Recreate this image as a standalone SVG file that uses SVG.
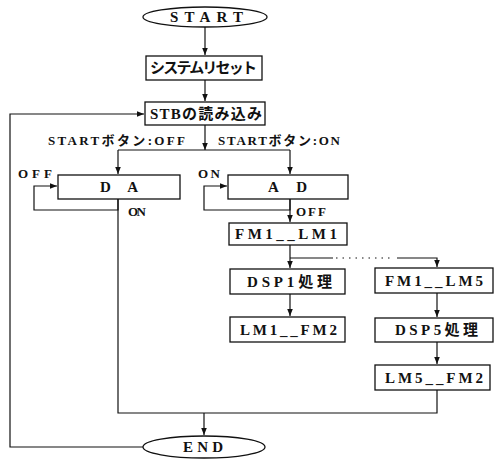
<svg xmlns="http://www.w3.org/2000/svg" width="496" height="460" viewBox="0 0 496 460">
<defs>
<marker id="ah" markerWidth="8" markerHeight="8" refX="7" refY="4" orient="auto" markerUnits="userSpaceOnUse">
<path d="M0,1.2 L7,4 L0,6.8 Z" fill="#111"/>
</marker>
<style>
.bx{fill:#fff;stroke:#111;stroke-width:1.3}
.ln{fill:none;stroke:#111;stroke-width:1.2}
.dt{fill:none;stroke:#111;stroke-width:1.2;stroke-dasharray:1.5 5}
.t{font-family:"Liberation Serif","Noto Sans CJK JP",serif;font-weight:bold;font-size:15px;fill:#111;dominant-baseline:central}
.l{font-family:"Liberation Serif","Noto Sans CJK JP",serif;font-weight:bold;font-size:13px;fill:#111;dominant-baseline:central}
</style>
</defs>
<rect width="496" height="460" fill="#fff"/>
<g id="connectors">
<path class="ln" d="M205,27 V55" marker-end="url(#ah)"/>
<path class="ln" d="M205,80 V101" marker-end="url(#ah)"/>
<path class="ln" d="M205,125 V150" marker-end="url(#ah)"/>
<path class="ln" d="M118,150 H290"/>
<path class="ln" d="M118,150 V174" marker-end="url(#ah)"/>
<path class="ln" d="M290,150 V174" marker-end="url(#ah)"/>
<path class="ln" d="M118,199 V210 H34 V186 H57" marker-end="url(#ah)"/>
<path class="ln" d="M290,199 V210 H204 V186 H227" marker-end="url(#ah)"/>
<path class="ln" d="M118,199 V413 H437 V390"/>
<path class="ln" d="M290,199 V222" marker-end="url(#ah)"/>
<path class="ln" d="M290,245 V268" marker-end="url(#ah)"/>
<path class="ln" d="M290,258 H333"/>
<path class="dt" d="M336,258 H394"/>
<path class="ln" d="M397,258 H437 V267" marker-end="url(#ah)"/>
<path class="ln" d="M290,294 V316" marker-end="url(#ah)"/>
<path class="ln" d="M437,293 V317" marker-end="url(#ah)"/>
<path class="ln" d="M437,342 V364" marker-end="url(#ah)"/>
<path class="ln" d="M204,413 V435" marker-end="url(#ah)"/>
<path class="ln" d="M143,447 H10 V114 H144" marker-end="url(#ah)"/>
</g>
<g id="labels">
<text class="l" x="48" y="140" textLength="137" lengthAdjust="spacing">STARTボタン:OFF</text>
<text class="l" x="218" y="140" textLength="122" lengthAdjust="spacing">STARTボタン:ON</text>
<text class="l" x="18" y="173" textLength="34" lengthAdjust="spacing">OFF</text>
<text class="l" x="198" y="173" textLength="22" lengthAdjust="spacing">ON</text>
<text class="l" x="128" y="211" textLength="18" lengthAdjust="spacing">ON</text>
<text class="l" x="296" y="211" textLength="30" lengthAdjust="spacing">OFF</text>
</g>
<g id="start">
<ellipse class="bx" cx="205" cy="17" rx="62" ry="10"/>
<text class="t" x="170" y="17" textLength="73" lengthAdjust="spacing">START</text>
</g>
<g id="reset">
<rect class="bx" x="146" y="56" width="116" height="24"/>
<text class="t" x="150" y="68" textLength="107" lengthAdjust="spacing">システムリセット</text>
</g>
<g id="stb">
<rect class="bx" x="145" y="102" width="120" height="23"/>
<text class="t" x="150" y="113.5" textLength="112" lengthAdjust="spacing">STBの読み込み</text>
</g>
<g id="da">
<rect class="bx" x="58" y="175" width="122" height="24"/>
<text class="t" x="100" y="187" textLength="38" lengthAdjust="spacing">D A</text>
</g>
<g id="ad">
<rect class="bx" x="228" y="175" width="120" height="24"/>
<text class="t" x="268" y="187" textLength="39" lengthAdjust="spacing">A D</text>
</g>
<g id="fm1lm1">
<rect class="bx" x="229" y="223" width="118" height="22"/>
<text class="t" x="235" y="234" textLength="102" lengthAdjust="spacing">FM1__LM1</text>
</g>
<g id="dsp1">
<rect class="bx" x="230" y="269" width="115" height="25"/>
<text class="t" x="247" y="281.5" textLength="85" lengthAdjust="spacing">DSP1処理</text>
</g>
<g id="lm1fm2">
<rect class="bx" x="230" y="317" width="115" height="25"/>
<text class="t" x="240" y="329.5" textLength="97" lengthAdjust="spacing">LM1__FM2</text>
</g>
<g id="fm1lm5">
<rect class="bx" x="375" y="268" width="118" height="25"/>
<text class="t" x="385" y="280.5" textLength="98" lengthAdjust="spacing">FM1__LM5</text>
</g>
<g id="dsp5">
<rect class="bx" x="375" y="318" width="118" height="24"/>
<text class="t" x="395" y="330" textLength="83" lengthAdjust="spacing">DSP5処理</text>
</g>
<g id="lm5fm2">
<rect class="bx" x="375" y="365" width="115" height="25"/>
<text class="t" x="385" y="377.5" textLength="98" lengthAdjust="spacing">LM5__FM2</text>
</g>
<g id="end">
<ellipse class="bx" cx="204" cy="447" rx="61" ry="11"/>
<text class="t" x="183" y="447" textLength="40" lengthAdjust="spacing">END</text>
</g>
</svg>
